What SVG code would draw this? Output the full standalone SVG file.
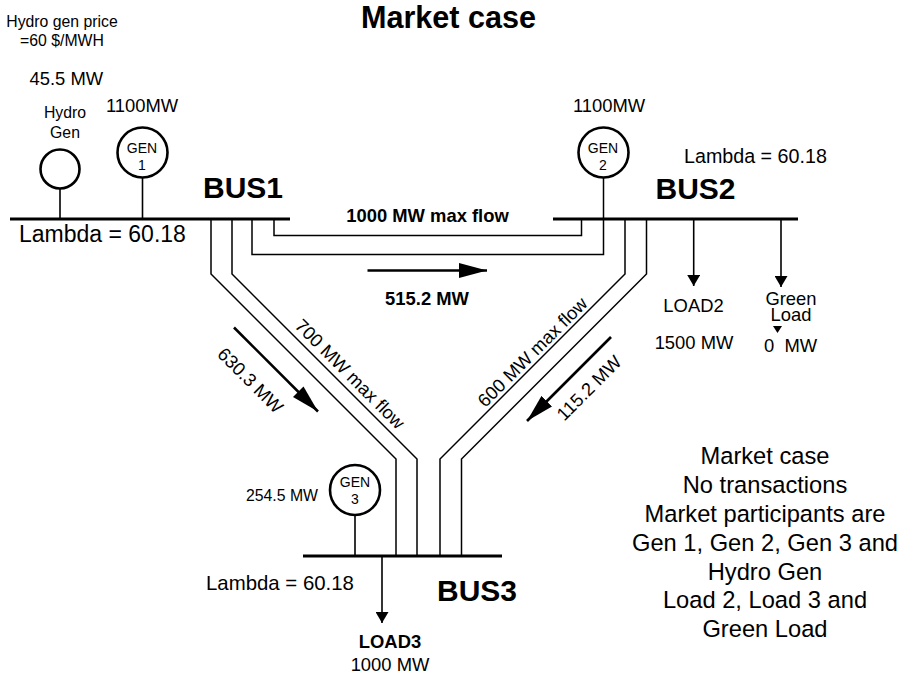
<svg xmlns="http://www.w3.org/2000/svg" width="907" height="674" viewBox="0 0 907 674">
<style>
text{font-family:"Liberation Sans",Arial,sans-serif;fill:#000}
.m{text-anchor:middle}
.b{font-weight:bold}
.title{font-size:30.600px;font-weight:bold}
.bus{font-size:30px;font-weight:bold}
.gn{font-size:14px}
.s{font-size:15.800px}
.t{font-size:18.400px}
.l1{font-size:23px}
.l2{font-size:19.700px}
.l3{font-size:20.400px}
.r{font-size:23.700px}
.pre{white-space:pre}
.busbar{stroke:#000;stroke-width:3;fill:none}
.wire{stroke:#000;stroke-width:1.5;fill:none}
.stem{stroke:#000;stroke-width:1.6;fill:none}
.gen{fill:#fff;stroke:#000;stroke-width:2.6}
.shaft{stroke:#000;stroke-width:2.6;fill:none}
</style>
<defs>
<marker id="ah" markerUnits="userSpaceOnUse" markerWidth="13" markerHeight="13" refX="11" refY="6.500" orient="auto"><path d="M0 0L11 6.500L0 13Z" fill="#000"/></marker>
<marker id="big" markerUnits="userSpaceOnUse" markerWidth="29" markerHeight="16" refX="28" refY="8" orient="auto"><path d="M0 0.500L28 8L0 15.500Z" fill="#000"/></marker>
</defs>
<text class="title m" x="448.500" y="28">Market case</text>
<g id="connectors">
<path class="wire" d="M274 219V235.500H581.500V219"/>
<path class="wire" d="M252 219V254.500H603.500V170"/>
<path class="wire" d="M211 219V274L396 459V556"/>
<path class="wire" d="M232 219V274L417 459V556"/>
<path class="wire" d="M625 219V274L440 459V556"/>
<path class="wire" d="M646.500 219V274L461.500 459V556"/>
<path class="stem" d="M60 189V219"/>
<path class="stem" d="M142.500 178V219"/>
<path class="stem" d="M355 515V556"/>
<path class="stem" d="M693.700 219V286" marker-end="url(#ah)"/>
<path class="stem" d="M781 219V287" marker-end="url(#ah)"/>
<path class="stem" d="M382 556V623" marker-end="url(#ah)"/>
<path class="shaft" d="M367.500 270.500H487" marker-end="url(#big)"/>
<path class="shaft" d="M234 327.500L318 411.500" marker-end="url(#big)"/>
<path class="shaft" d="M611 337L527 421" marker-end="url(#big)"/>
</g>
<g id="bus1">
<path class="busbar" d="M10 219H290"/>
<text class="bus" x="203" y="198">BUS1</text>
<text class="l1" x="19" y="242">Lambda = 60.18</text>
</g>
<g id="bus2">
<path class="busbar" d="M553 219H798"/>
<text class="bus" x="655.500" y="199">BUS2</text>
<text class="l2" x="684" y="163">Lambda = 60.18</text>
</g>
<g id="bus3">
<path class="busbar" d="M303 556H502"/>
<text class="bus" x="437" y="601">BUS3</text>
<text class="l3" x="206" y="590">Lambda = 60.18</text>
</g>
<g id="hydro">
<circle class="gen" cx="60" cy="169" r="19.500"/>
<text class="s m" x="62" y="26.500">Hydro gen price</text>
<text class="s m" x="62" y="46">=60 $/MWH</text>
<text class="t" x="29.500" y="85">45.5 MW</text>
<text class="s m" x="65" y="118">Hydro</text>
<text class="s m" x="65" y="138">Gen</text>
</g>
<g id="gen1">
<circle class="gen" cx="142.500" cy="152.500" r="25"/>
<text class="gn m" x="142" y="153">GEN</text>
<text class="gn m" x="142" y="170">1</text>
<text class="t" x="106" y="112">1100MW</text>
</g>
<g id="gen2">
<circle class="gen" cx="603.500" cy="152.500" r="25"/>
<text class="gn m" x="603" y="153">GEN</text>
<text class="gn m" x="603" y="170">2</text>
<text class="t" x="573" y="112">1100MW</text>
</g>
<g id="gen3">
<circle class="gen" cx="355" cy="490" r="25"/>
<text class="gn m" x="355" y="487">GEN</text>
<text class="gn m" x="355" y="504">3</text>
<text class="s m" x="282" y="501">254.5 MW</text>
</g>
<g id="load2">
<text class="t m" x="693.500" y="312">LOAD2</text>
<text class="t m" x="694" y="349">1500 MW</text>
</g>
<g id="greenload">
<text class="t m" x="791" y="305">Green</text>
<text class="t m" x="791" y="321">Load</text>
<path d="M773 326H782L777.500 333Z" fill="#000"/>
<text class="t m pre" x="790.500" y="352">0  MW</text>
</g>
<g id="load3">
<text class="t m b" x="390" y="648">LOAD3</text>
<text class="t m" x="390" y="670.500">1000 MW</text>
</g>
<g id="labels">
<text class="t m b" x="427.500" y="222">1000 MW max flow</text>
<text class="t m b" x="427" y="305">515.2 MW</text>
<text class="t m" transform="translate(345.500 378.500) rotate(45)">700 MW max flow</text>
<text class="t m" transform="translate(537 356.500) rotate(-45)">600 MW max flow</text>
<text class="t m" transform="translate(246 385) rotate(45)">630.3 MW</text>
<text class="t m" transform="translate(593.500 392.500) rotate(-45)">115.2 MW</text>
</g>
<g id="note">
<text class="r m" x="765" y="463.500">Market case</text>
<text class="r m" x="765" y="492.500">No transactions</text>
<text class="r m" x="765" y="521.500">Market participants are</text>
<text class="r m" x="765" y="550.500">Gen 1, Gen 2, Gen 3 and</text>
<text class="r m" x="765" y="579.500">Hydro Gen</text>
<text class="r m" x="765" y="608">Load 2, Load 3 and</text>
<text class="r m" x="765" y="637">Green Load</text>
</g>
</svg>
